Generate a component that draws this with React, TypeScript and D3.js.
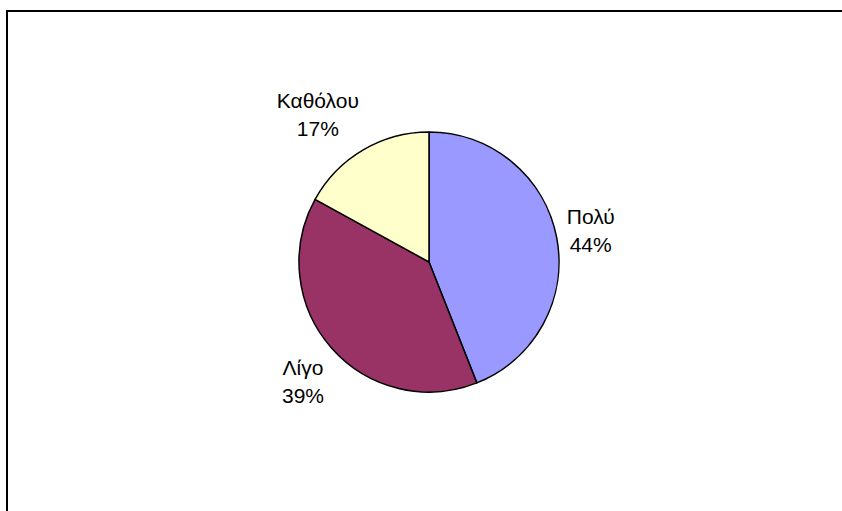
import React from "react";
import * as d3 from "d3";

const categories = ["Πολύ", "Λίγο", "Καθόλου"];
const values = [44, 39, 17];
const colors = ["#9999FF", "#993366", "#FFFFCC"];
const percentLabels = ["44%", "39%", "17%"];
// label block offsets from the point on the rim at each slice's mid angle
const labelOffsets: [number, number][] = [
  [34, -7],
  [-28.5, 34],
  [-45, -35],
];

const W = 842;
const H = 511;
const cx = 429;
const cy = 262;
const R = 130;

export default function App() {
  const pie = d3.pie<number>().sort(null).value((d) => d)(values);
  const arc = d3.arc<d3.PieArcDatum<number>>().innerRadius(0).outerRadius(R);
  return (
    <div style={{ position: "fixed", left: 0, top: 0, width: W, height: H, overflow: "hidden", background: "#fff" }}>
      <svg
        width={W}
        height={H}
        style={{ display: "block" }}
        fontFamily="'Liberation Sans', Arial, sans-serif"
      >
        <rect x={0} y={0} width={W} height={H} fill="#fff" />
        <line x1={6} y1={11} x2={W} y2={11} stroke="#000" strokeWidth={2} />
        <line x1={7} y1={10} x2={7} y2={H} stroke="#000" strokeWidth={2} />
        <g transform={`translate(${cx},${cy})`}>
          {pie.map((p, i) => (
            <path key={i} d={arc(p) || ""} fill={colors[i]} stroke="#000" strokeWidth={1.5} strokeLinejoin="round" />
          ))}
          {pie.map((p, i) => {
            const mid = (p.startAngle + p.endAngle) / 2;
            const x = Math.sin(mid) * R + labelOffsets[i][0];
            const y = -Math.cos(mid) * R + labelOffsets[i][1];
            return (
              <text key={i} textAnchor="middle" fontSize={21} fill="#000">
                <tspan x={x} y={y - 7}>{categories[i]}</tspan>
                <tspan x={x} y={y + 21}>{percentLabels[i]}</tspan>
              </text>
            );
          })}
        </g>
      </svg>
    </div>
  );
}
